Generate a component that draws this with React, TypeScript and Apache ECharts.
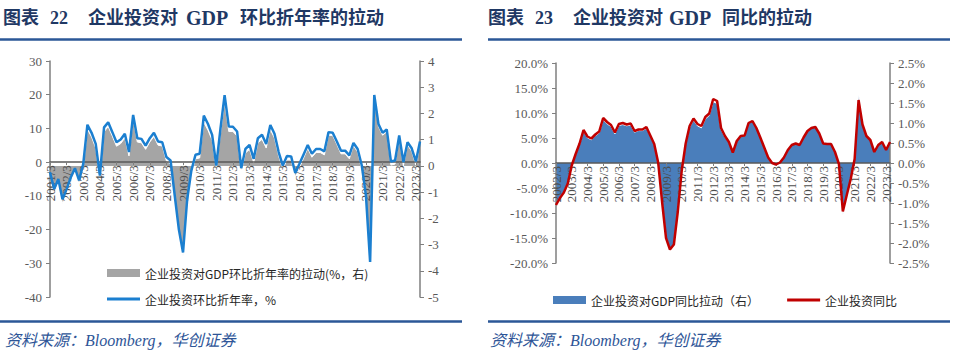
import React, { useEffect, useRef } from "react";
import * as echarts from "echarts";

// ---------- data ----------
const LEFT_START_YEAR = 2001;
const RIGHT_START_YEAR = 2002;
const QUARTER_MONTHS = [3, 6, 9, 12];

// 企业投资环比折年率，% (left axis, chart 22), 2001Q1 - 2023Q2
const investQoQ = [
  -3, -8, -5, -11,
  -8, -4.5, -1.8, -5.4,
  -0.5, 11.1, 8.7, 5.4,
  -4, 10.3, 11.8, 8.9,
  5.9, 6.7, 8.4, 3.0,
  14.0, 7.1, 6.9, 4.9,
  7.1, 8.7, 6.1, 5.9,
  1.5, 0.5, -9.9, -20,
  -26.8, -11, -2.5, 2.2,
  2.5, 13.8, 11.3, 8.1,
  -1, 9.9, 19.9, 10.6,
  10.5, 9.1, -1.8, 3.9,
  5.1, 1.0, 7.1, 8.1,
  5.4, 11.0, 8.4, 3.0,
  -1, 1.8, 1.7, -3.2,
  -0.5, 2.3, 5.1, 2.5,
  3.9, 3.9, 3.2, 8.9,
  8.7, 6.1, 3.4, 3.4,
  2.0, 5.7, 3.9, -1.0,
  -10, -29.6, 19.9, 11.3,
  8.7, 9.7, 0.2, 0.5,
  7.9, 0, 5.9, 4.1,
  0.2, 6.1,
];

// 企业投资对GDP环比折年率的拉动 (right axis, chart 22)
const contribQoQ = [
  -0.39, -1.04, -0.65, -1.43,
  -1.04, -0.58, -0.23, -0.70,
  -0.06, 1.40, 1.10, 0.68,
  -0.50, 1.30, 1.50, 1.13,
  0.75, 0.85, 1.07, 0.38,
  1.79, 0.91, 0.88, 0.63,
  0.91, 1.12, 0.79, 0.76,
  0.19, 0.06, -1.28, -2.60,
  -3.45, -1.40, -0.31, 0.27,
  0.30, 1.66, 1.36, 0.98,
  -0.12, 1.21, 2.45, 1.31,
  1.31, 1.14, -0.23, 0.49,
  0.63, 0.12, 0.88, 1.01,
  0.68, 1.38, 1.06, 0.38,
  -0.13, 0.23, 0.22, -0.42,
  -0.07, 0.30, 0.67, 0.33,
  0.51, 0.51, 0.42, 1.17,
  1.16, 0.82, 0.46, 0.46,
  0.27, 0.77, 0.53, -0.14,
  -1.37, -3.75, 2.62, 1.50,
  1.17, 1.30, 0.03, 0.07,
  1.06, 0.00, 0.80, 0.56,
  0.03, 0.83,
];

// 企业投资同比 (left axis, chart 23, %), 2002Q1 - 2023Q2
const investYoY = [
  -8.4, -7.0, -5.9, -4.1,
  -0.5, 1.8, 3.9, 6.6,
  5.3, 4.9, 5.7, 6.3,
  9.0, 8.2, 7.6, 6.1,
  7.8, 8.0, 7.7, 7.9,
  6.4, 6.7, 6.7, 7.2,
  5.5, 3.8, 0.1, -7.8,
  -15.0, -17.3, -16.3, -9.7,
  -1.5, 3.9, 7.4, 8.9,
  7.8, 7.4, 9.2, 9.9,
  12.8, 12.4, 7.0, 5.4,
  4.2, 2.1, 4.4, 5.4,
  5.5, 8.0, 8.4, 7.0,
  5.1, 3.1, 1.1, 0.0,
  -0.3, 0.1, 1.1, 2.6,
  3.6, 3.9, 3.6, 5.1,
  6.4, 7.0, 7.2, 5.9,
  3.9, 3.8, 3.8, 2.2,
  -0.2, -9.7, -6.4, -3.2,
  0.8, 12.6, 7.7, 5.4,
  4.6, 2.2, 3.6, 4.2,
  2.6, 4.2,
];

// 企业投资对GDP同比拉动 (right axis, chart 23, %)
const contribYoY = [
  -1.02, -0.85, -0.72, -0.50,
  -0.06, 0.21, 0.46, 0.79,
  0.63, 0.58, 0.68, 0.75,
  1.08, 0.98, 0.91, 0.73,
  0.94, 0.96, 0.93, 0.95,
  0.77, 0.81, 0.81, 0.87,
  0.67, 0.46, 0.01, -0.95,
  -1.85, -2.14, -2.03, -1.20,
  -0.18, 0.47, 0.89, 1.07,
  0.93, 0.88, 1.10, 1.19,
  1.53, 1.49, 0.84, 0.65,
  0.51, 0.26, 0.54, 0.66,
  0.68, 1.00, 1.06, 0.88,
  0.64, 0.39, 0.14, 0.00,
  -0.04, 0.01, 0.14, 0.33,
  0.46, 0.50, 0.46, 0.65,
  0.82, 0.90, 0.93, 0.77,
  0.50, 0.49, 0.49, 0.28,
  -0.03, -1.30, -0.82, -0.41,
  0.10, 1.75, 1.00, 0.70,
  0.60, 0.29, 0.47, 0.57,
  0.34, 0.55,
];

const NAME_GRAY = "企业投资对GDP环比折年率的拉动(%，右)";
const NAME_BLUE = "企业投资环比折年率，%";
const NAME_AREA = "企业投资对GDP同比拉动（右）";
const NAME_RED = "企业投资同比";

function quarterLabels(startYear: number, count: number): string[] {
  const out: string[] = [];
  for (let i = 0; i < count; i++) {
    const y = startYear + Math.floor(i / 4);
    out.push(`${y}/${QUARTER_MONTHS[i % 4]}`);
  }
  return out;
}

const catsLeft = quarterLabels(LEFT_START_YEAR, investQoQ.length);
const catsRight = quarterLabels(RIGHT_START_YEAR, investYoY.length);

// ---------- styles ----------
const SERIF = "'Liberation Serif', 'Times New Roman', serif";
const CJK = "'Noto Sans CJK SC', sans-serif";
const TITLE_FONT = "'Liberation Serif', 'Noto Sans CJK SC', serif";
const AXIS_COLOR = "#7f7f7f";
const LABEL_COLOR = "#4d4d4d";
const NAVY = "#1F3864";
const RULE = "#2B5797";

// grid geometry
const G1 = { left: 50, top: 61, width: 370, height: 236 };
const G2 = { left: 556, top: 63, width: 334, height: 200 };
const L_MIN = -40, L_MAX = 30;
const R_MIN = -20, R_MAX = 20;

// offset (negative = upward) so the category axis sits on the left axis' zero
const offsetToZero = (g: { height: number }, min: number, max: number) =>
  -(g.height * (0 - min)) / (max - min);

function catAxis(gridIndex: number, data: string[], offset: number) {
  return {
    type: "category",
    gridIndex,
    data,
    boundaryGap: false,
    offset,
    z: 10,
    axisLine: { onZero: false, lineStyle: { color: "#595959", width: 1.5 } },
    axisTick: { show: true, interval: 3, length: 3, lineStyle: { color: AXIS_COLOR } },
    axisLabel: {
      interval: 3,
      rotate: 90,
      margin: 3,
      fontFamily: SERIF,
      fontSize: 13,
      color: LABEL_COLOR,
    },
    splitLine: { show: false },
  };
}

function valAxis(gridIndex: number, position: string, min: number, max: number, interval: number, fmt?: (v: number) => string) {
  return {
    type: "value",
    gridIndex,
    position,
    min,
    max,
    interval,
    z: 10,
    axisLine: { show: true, onZero: false, lineStyle: { color: AXIS_COLOR, width: 1.5 } },
    axisTick: { show: true, length: 4, lineStyle: { color: AXIS_COLOR } },
    axisLabel: {
      fontFamily: SERIF,
      fontSize: 13,
      color: "#595959",
      margin: 8,
      formatter: fmt ? fmt : (v: number) => String(v),
    },
    splitLine: { show: false },
  };
}

const pct = (v: number) => v.toFixed(1) + "%";

function titleTexts(x0: number, num: string, before: string, after: string, gdpX: number, afterX: number) {
  const base = { fill: NAVY, fontWeight: "bold", fontSize: 18, fontFamily: TITLE_FONT };
  return [
    { type: "text", left: x0, top: 9, style: { ...base, text: "图表" } },
    { type: "text", left: x0 + 47, top: 9, style: { ...base, text: num } },
    { type: "text", left: x0 + 85, top: 9, style: { ...base, text: before } },
    { type: "text", left: gdpX, top: 8, style: { ...base, text: "GDP", fontSize: 20 } },
    { type: "text", left: afterX, top: 9, style: { ...base, text: after } },
  ];
}

export default function App() {
  const ref = useRef<HTMLDivElement>(null);

  useEffect(() => {
    if (!ref.current) return;
    const chart = echarts.init(ref.current, null, { renderer: "svg" });

    const option: any = {
      animation: false,
      backgroundColor: "#ffffff",
      grid: [
        { ...G1, containLabel: false },
        { ...G2, containLabel: false },
      ],
      xAxis: [
        catAxis(0, catsLeft, offsetToZero(G1, L_MIN, L_MAX)),
        catAxis(1, catsRight, offsetToZero(G2, R_MIN, R_MAX)),
      ],
      yAxis: [
        valAxis(0, "left", L_MIN, L_MAX, 10),
        valAxis(0, "right", -5, 4, 1),
        valAxis(1, "left", R_MIN, R_MAX, 5, pct),
        valAxis(1, "right", -2.5, 2.5, 0.5, pct),
      ],
      legend: [
        {
          orient: "vertical",
          left: 102,
          top: 262,
          itemWidth: 33,
          itemHeight: 8,
          itemGap: 14,
          itemStyle: { borderWidth: 0 },
          textStyle: { fontFamily: CJK, fontSize: 12, color: "#262626" },
          data: [
            { name: NAME_GRAY, icon: "rect", itemStyle: { color: "#A5A5A5", borderWidth: 0 } },
            { name: NAME_BLUE, icon: "path://M0,0H33V3H0Z", itemStyle: { color: "#1B7FD0", borderWidth: 0 } },
          ],
        },
        {
          orient: "horizontal",
          left: 548,
          top: 289,
          itemWidth: 33,
          itemHeight: 8,
          itemGap: 28,
          itemStyle: { borderWidth: 0 },
          textStyle: { fontFamily: CJK, fontSize: 12, color: "#262626" },
          data: [
            { name: NAME_AREA, icon: "rect", itemStyle: { color: "#4A7EBB", borderWidth: 0 } },
            { name: NAME_RED, icon: "path://M0,0H35V3H0Z", itemStyle: { color: "#C00000", borderWidth: 0 } },
          ],
        },
      ],
      series: [
        {
          name: NAME_GRAY,
          type: "line",
          xAxisIndex: 0,
          yAxisIndex: 1,
          data: contribQoQ,
          color: "#A5A5A5",
          symbol: "none",
          lineStyle: { color: "#ffffff", width: 1 },
          areaStyle: { color: "#A5A5A5", opacity: 1 },
          z: 1,
        },
        {
          name: NAME_BLUE,
          type: "line",
          xAxisIndex: 0,
          yAxisIndex: 0,
          data: investQoQ,
          color: "#1B7FD0",
          symbol: "none",
          lineStyle: { color: "#1B7FD0", width: 2.5 },
          z: 12,
        },
        {
          name: NAME_AREA,
          type: "line",
          xAxisIndex: 1,
          yAxisIndex: 3,
          data: contribYoY,
          color: "#4A7EBB",
          symbol: "none",
          lineStyle: { color: "#ffffff", width: 1 },
          areaStyle: { color: "#4A7EBB", opacity: 1 },
          z: 1,
        },
        {
          name: NAME_RED,
          type: "line",
          xAxisIndex: 1,
          yAxisIndex: 2,
          data: investYoY,
          color: "#C00000",
          symbol: "none",
          lineStyle: { color: "#C00000", width: 2.5 },
          z: 12,
        },
      ],
      graphic: [
        ...titleTexts(3, "22", "企业投资对", "环比折年率的拉动", 186, 240),
        ...titleTexts(488, "23", "企业投资对", "同比的拉动", 669, 722),
        { type: "line", shape: { x1: 0, y1: 39.5, x2: 462, y2: 39.5 }, style: { stroke: RULE, lineWidth: 2.5 } },
        { type: "line", shape: { x1: 488, y1: 39.5, x2: 950, y2: 39.5 }, style: { stroke: RULE, lineWidth: 2.5 } },
        { type: "line", shape: { x1: 0, y1: 321.5, x2: 462, y2: 321.5 }, style: { stroke: RULE, lineWidth: 2.5 } },
        { type: "line", shape: { x1: 488, y1: 321.5, x2: 950, y2: 321.5 }, style: { stroke: RULE, lineWidth: 2.5 } },
        {
          type: "text",
          left: 5,
          top: 332,
          style: { text: "资料来源：Bloomberg，华创证券", fill: "#2E5597", fontSize: 16, fontStyle: "italic", fontFamily: TITLE_FONT },
        },
        {
          type: "text",
          left: 490,
          top: 332,
          style: { text: "资料来源：Bloomberg，华创证券", fill: "#2E5597", fontSize: 16, fontStyle: "italic", fontFamily: TITLE_FONT },
        },
      ],
    };

    chart.setOption(option);
    return () => chart.dispose();
  }, []);

  return (
    <div
      ref={ref}
      style={{ position: "absolute", left: 0, top: 0, width: 960, height: 356, background: "#fff" }}
    />
  );
}
